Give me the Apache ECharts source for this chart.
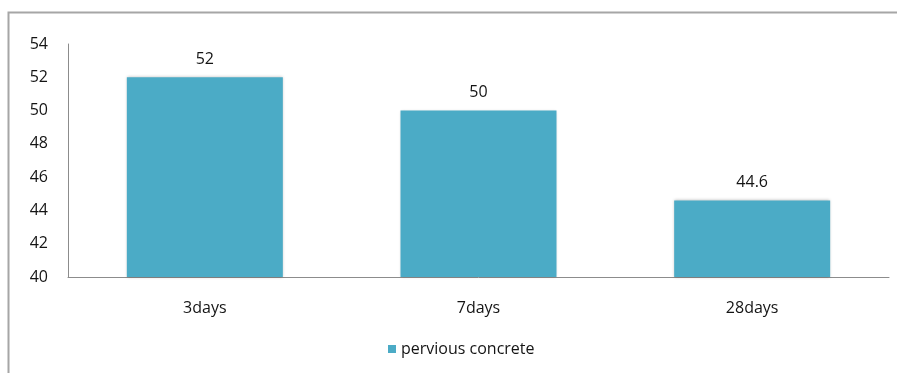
<!DOCTYPE html>
<html lang="en">
<head>
    <meta charset="UTF-8">
    <title>pervious concrete</title>
    <script src="https://cdn.jsdelivr.net/npm/echarts@6.0.0/dist/echarts.min.js"></script>
    <style>
        body {
            margin: 0;
            background-color: #ffffff;
        }
        #chart {
            width: 897px;
            height: 373px;
        }
    </style>
</head>
<body>
    <div id="chart"></div>

    <script>
        // data
        var categories = ['3days', '7days', '28days'];
        var values = [52, 50, 44.6];
        var seriesName = 'pervious concrete';

        var myChart = echarts.init(document.getElementById('chart'));

        var font = '"Open Sans", Arial, sans-serif';
        var textColor = '#141414';

        var option = {
            animation: false,
            textStyle: { fontFamily: font },
            // outer chart frame: only its top and left edges are in view
            graphic: [{
                type: 'polyline',
                shape: { points: [[8.5, 380], [8.5, 12.5], [900, 12.5]] },
                style: { fill: 'none', stroke: '#a6a6a6', lineWidth: 2 },
                silent: true
            }],
            grid: {
                left: 68,
                right: 8,
                top: 44,
                bottom: 96
            },
            legend: {
                data: [seriesName],
                bottom: 11,
                left: 383,
                itemWidth: 8,
                itemHeight: 8,
                itemGap: 10,
                icon: 'rect',
                textStyle: { fontFamily: font, fontSize: 16, color: textColor }
            },
            xAxis: {
                type: 'category',
                data: categories,
                axisLine: { lineStyle: { color: '#8c8c8c', width: 1 } },
                axisTick: { show: false },
                axisLabel: { margin: 23, fontSize: 16, color: textColor, fontFamily: font }
            },
            yAxis: {
                type: 'value',
                min: 40,
                max: 54,
                interval: 2,
                axisLine: { show: true, lineStyle: { color: '#8c8c8c', width: 1 } },
                axisTick: { show: false },
                splitLine: { show: false },
                axisLabel: { margin: 20, fontSize: 16, color: textColor, fontFamily: font }
            },
            series: [{
                name: seriesName,
                type: 'bar',
                data: values,
                barWidth: '57%',
                itemStyle: {
                    color: '#4babc6',
                    shadowColor: 'rgba(0,0,0,0.25)',
                    shadowBlur: 3
                },
                label: {
                    show: true,
                    position: 'top',
                    distance: 10,
                    fontSize: 16,
                    color: textColor,
                    fontFamily: font
                }
            }]
        };

        myChart.setOption(option);
    </script>
</body>
</html>
